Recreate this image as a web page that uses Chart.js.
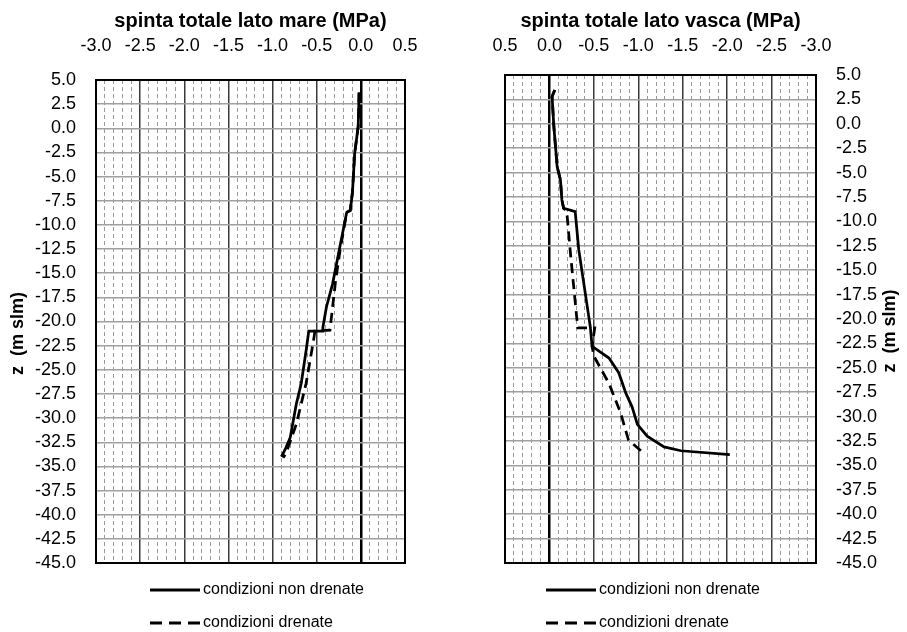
<!DOCTYPE html>
<html>
<head>
<meta charset="utf-8">
<script src="https://cdn.jsdelivr.net/npm/chart.js@4.4.1/dist/chart.umd.min.js"></script>
<style>
  body { margin: 0; background: #fff; }
  #wrap { position: relative; width: 907px; height: 632px; }
  #wrap canvas { position: absolute; top: 0; }
</style>
</head>
<body>
<div id="wrap">
  <canvas id="chartMare" width="453" height="632" style="left:0"></canvas>
  <canvas id="chartVasca" width="454" height="632" style="left:453px"></canvas>
</div>
<script>
// quote z (m slm) e spinte totali (MPa)
const zMareNonDrenate = [3.7, 0.2, -2.6, -6.6, -8.5, -8.7, -12.6, -16.1, -18.5, -20.6, -21.0, -21.0, -23.0, -26.4, -28.5, -32.0, -33.3, -34.0];
const pMareNonDrenate = [-0.02, -0.03, -0.07, -0.095, -0.12, -0.16, -0.245, -0.32, -0.39, -0.43, -0.43, -0.59, -0.62, -0.675, -0.73, -0.80, -0.86, -0.90];
const zMareDrenate = [3.7, 0.2, -2.6, -6.6, -8.5, -8.7, -12.6, -15.7, -18.5, -20.9, -21.0, -21.9, -26.4, -30.6, -33.7, -34.1];
const pMareDrenate = [-0.02, -0.03, -0.07, -0.095, -0.12, -0.16, -0.235, -0.285, -0.32, -0.35, -0.52, -0.535, -0.62, -0.73, -0.85, -0.88];

const zVascaNonDrenate = [3.46, 2.8, -0.3, -4.4, -5.75, -7.8, -8.65, -9.0, -12.9, -20.8, -22.8, -24.0, -25.5, -27.6, -29.0, -30.8, -32.0, -33.1, -33.5, -33.9];
const pVascaNonDrenate = [-0.06, -0.03, -0.05, -0.087, -0.124, -0.14, -0.16, -0.29, -0.33, -0.46, -0.48, -0.67, -0.78, -0.86, -0.93, -0.99, -1.10, -1.29, -1.48, -2.03];
const zVascaDrenate = [3.46, 2.8, -0.3, -4.4, -5.75, -7.8, -8.65, -8.9, -9.5, -13.6, -20.1, -20.9, -20.9, -22.8, -23.8, -26.6, -29.6, -32.4, -33.9];
const pVascaDrenate = [-0.06, -0.03, -0.05, -0.087, -0.124, -0.14, -0.16, -0.19, -0.20, -0.24, -0.31, -0.32, -0.51, -0.48, -0.50, -0.67, -0.80, -0.89, -1.08];

const serie = ['condizioni non drenate', 'condizioni drenate'];
const zRange = [-45, 5];
const pRange = [-3, 0.5];

const FONT = "'Liberation Sans', Arial, sans-serif";

function punti(p, z) {
  return p.map((v, i) => ({ x: v, y: z[i] }));
}

function multiploMezzo(v) {
  return Math.abs(v * 2 - Math.round(v * 2)) < 1e-6;
}

// cornice nera attorno all'area del grafico
const cornice = {
  id: 'cornice',
  beforeDatasetsDraw(chart) {
    const { ctx, chartArea: a } = chart;
    ctx.save();
    ctx.strokeStyle = '#000';
    ctx.lineWidth = 2;
    ctx.strokeRect(a.left, a.top, a.right - a.left, a.bottom - a.top);
    ctx.restore();
  }
};

// titolo asse z, sempre ruotato dal basso verso l'alto
const titoloZ = {
  id: 'titoloZ',
  afterDraw(chart, args, opts) {
    const { ctx, chartArea: a } = chart;
    ctx.save();
    ctx.translate(opts.x, (a.top + a.bottom) / 2 + opts.dy);
    ctx.rotate(-Math.PI / 2);
    ctx.font = 'bold 18px ' + FONT;
    ctx.fillStyle = '#000';
    ctx.textAlign = 'center';
    ctx.textBaseline = 'middle';
    ctx.fillText(opts.text, 0, 0);
    ctx.restore();
  }
};

// legenda su due righe, una serie per riga
const legendaLinee = {
  id: 'legendaLinee',
  afterDraw(chart, args, opts) {
    const ctx = chart.ctx;
    chart.data.datasets.forEach((ds, i) => {
      const y = opts.y[i];
      ctx.save();
      ctx.strokeStyle = '#000';
      ctx.lineWidth = 3;
      ctx.setLineDash(ds.borderDash && ds.borderDash.length ? [12, 7] : []);
      ctx.beginPath();
      ctx.moveTo(opts.x, y);
      ctx.lineTo(opts.x + opts.len, y);
      ctx.stroke();
      ctx.setLineDash([]);
      ctx.font = '16px ' + FONT;
      ctx.fillStyle = '#000';
      ctx.textBaseline = 'middle';
      ctx.fillText(ds.label, opts.x + opts.len + 3, y);
      ctx.restore();
    });
  }
};

function creaGrafico(id, cfg) {
  const ctx = document.getElementById(id).getContext('2d');
  return new Chart(ctx, {
    type: 'scatter',
    data: {
      datasets: [
        {
          label: serie[0],
          data: punti(cfg.pNonDrenate, cfg.zNonDrenate),
          showLine: true,
          borderColor: '#000',
          borderWidth: 2.75,
          pointRadius: 0,
          tension: 0
        },
        {
          label: serie[1],
          data: punti(cfg.pDrenate, cfg.zDrenate),
          showLine: true,
          borderColor: '#000',
          borderWidth: 2.75,
          borderDash: [10, 6],
          pointRadius: 0,
          tension: 0
        }
      ]
    },
    options: {
      responsive: false,
      animation: false,
      layout: { padding: cfg.padding },
      plugins: {
        legend: { display: false },
        tooltip: { enabled: false },
        titoloZ: { text: 'z  (m slm)', x: cfg.titoloZx, dy: 12 },
        legendaLinee: { x: cfg.legendaX, len: 50, y: [590, 623] }
      },
      scales: {
        x: {
          type: 'linear',
          position: 'top',
          min: pRange[0],
          max: pRange[1],
          reverse: cfg.reverse,
          afterFit: s => { s.height = cfg.altezzaX; },
          title: {
            display: true,
            text: cfg.titolo,
            color: '#000',
            font: { family: FONT, size: 20, weight: 'bold' },
            padding: { top: 9, bottom: 0 }
          },
          ticks: {
            stepSize: 0.5,
            autoSkip: false,
            maxRotation: 0,
            color: '#000',
            font: { family: FONT, size: 18 },
            padding: cfg.altezzaX - 57,
            callback: v => v.toFixed(1)
          },
          border: { display: false },
          grid: {
            drawTicks: false,
            color: c => c.tick.value === 0 ? '#000' : '#3a3a3a',
            lineWidth: c => c.tick.value === 0 ? 2.5 : 1.5
          }
        },
        xMinore: {
          type: 'linear',
          position: 'bottom',
          min: pRange[0],
          max: pRange[1],
          reverse: cfg.reverse,
          afterFit: s => { s.height = 0; },
          ticks: { stepSize: 0.1, autoSkip: false, display: false },
          border: { display: false, dash: [4, 3] },
          grid: {
            drawTicks: false,
            color: c => multiploMezzo(c.tick.value) ? 'rgba(0,0,0,0)' : '#9a9a9a',
            lineWidth: 1
          }
        },
        y: {
          type: 'linear',
          position: cfg.posY,
          min: zRange[0],
          max: zRange[1],
          afterFit: s => { s.width = cfg.larghezzaY; },
          ticks: {
            stepSize: 2.5,
            autoSkip: false,
            color: '#000',
            font: { family: FONT, size: 18 },
            padding: 20,
            callback: v => v.toFixed(1)
          },
          border: { display: false },
          grid: {
            drawTicks: false,
            color: '#a0a0a0',
            lineWidth: 1.5
          }
        }
      }
    },
    plugins: [cornice, titoloZ, legendaLinee]
  });
}

creaGrafico('chartMare', {
  titolo: 'spinta totale lato mare (MPa)',
  zNonDrenate: zMareNonDrenate, pNonDrenate: pMareNonDrenate,
  zDrenate: zMareDrenate, pDrenate: pMareDrenate,
  reverse: false,
  posY: 'left',
  larghezzaY: 96,
  altezzaX: 80,
  padding: { left: 0, top: 0, right: 48, bottom: 69 },
  titoloZx: 18,
  legendaX: 150
});

creaGrafico('chartVasca', {
  titolo: 'spinta totale lato vasca (MPa)',
  zNonDrenate: zVascaNonDrenate, pNonDrenate: pVascaNonDrenate,
  zDrenate: zVascaDrenate, pDrenate: pVascaDrenate,
  reverse: true,
  posY: 'right',
  larghezzaY: 91,
  altezzaX: 75,
  padding: { left: 52, top: 0, right: 0, bottom: 69 },
  titoloZx: 437,
  legendaX: 93
});
</script>
</body>
</html>
